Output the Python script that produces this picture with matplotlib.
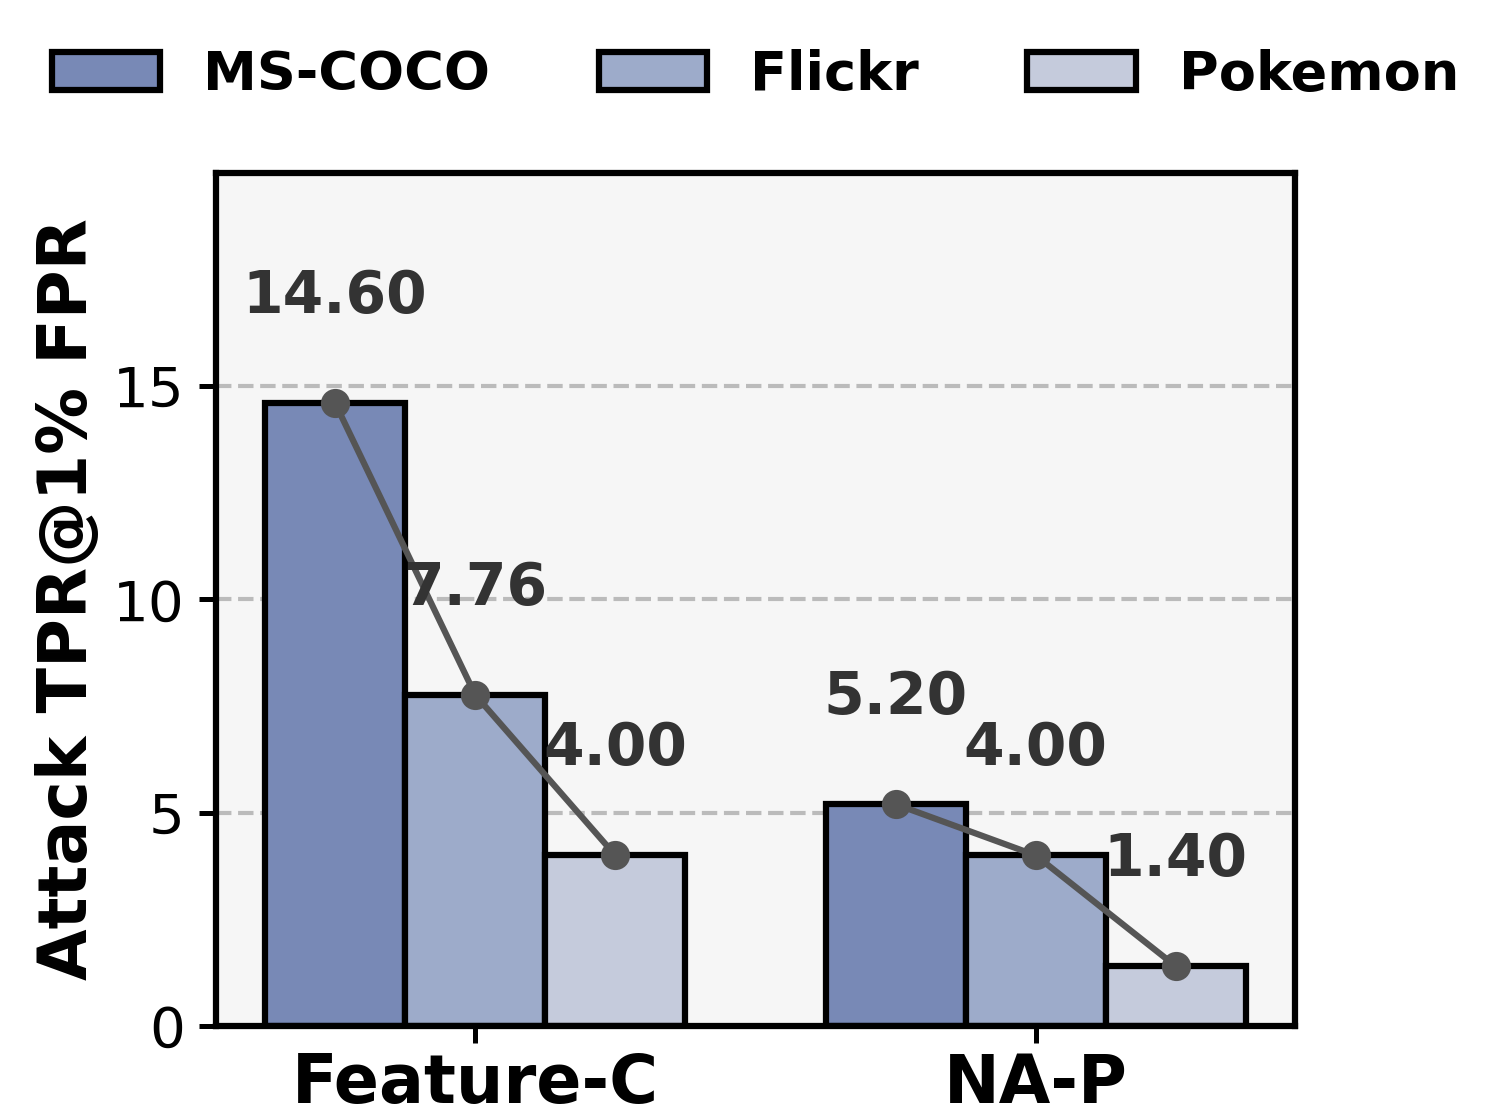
import numpy as np
import matplotlib.pyplot as plt

# datos
methods = ['Feature-C', 'NA-P']
datasets = ['MS-COCO', 'Flickr', 'Pokemon']
mscoco = [14.60, 5.20]
flickr = [7.76, 4.00]
pokemon = [4.00, 1.40]
colors = ['#7889b6', '#9dabca', '#c5cbdc']

fig = plt.figure(figsize=(1511/300, 1108/300), dpi=300)
ax = fig.add_axes([0.143, 0.074, 0.714, 0.770])
ax.set_facecolor('#f6f6f6')

x = np.arange(len(methods))
w = 0.25
series = [mscoco, flickr, pokemon]
for i, vals in enumerate(series):
    ax.bar(x + (i - 1) * w, vals, w, color=colors[i], edgecolor='black',
           linewidth=1.5, label=datasets[i], zorder=2)

# linea que une los puntos de cada grupo + etiquetas
for j in range(len(methods)):
    xs = [x[j] + (i - 1) * w for i in range(3)]
    ys = [s[j] for s in series]
    ax.plot(xs, ys, '-o', color='#555555', linewidth=1.5, markersize=6, zorder=3)
    for xx, yy in zip(xs, ys):
        ax.text(xx, yy + 2.5, f'{yy:.2f}', ha='center', va='center',
                fontsize=14, fontweight='bold', color='#333333', zorder=4)

ax.set_ylim(0, 20)
ax.set_yticks([0, 5, 10, 15])
ax.yaxis.grid(True, linestyle='--', color='#bbbbbb', linewidth=1, zorder=0)
ax.set_axisbelow(True)
ax.set_xticks(x)
ax.set_xticklabels(methods, fontsize=16, fontweight='bold')
ax.tick_params(axis='y', labelsize=13.5, width=1.2, length=4)
ax.tick_params(axis='x', width=1.2, length=4, pad=2)
ax.set_ylabel('Attack TPR@1% FPR', fontsize=16, fontweight='bold', labelpad=3)
for sp in ax.spines.values():
    sp.set_linewidth(1.5)

fig.legend(loc='upper center', bbox_to_anchor=(0.5, 1.0), ncol=3, frameon=False,
           prop={'weight': 'bold', 'size': 13})

fig.savefig('out.png', dpi=300)
